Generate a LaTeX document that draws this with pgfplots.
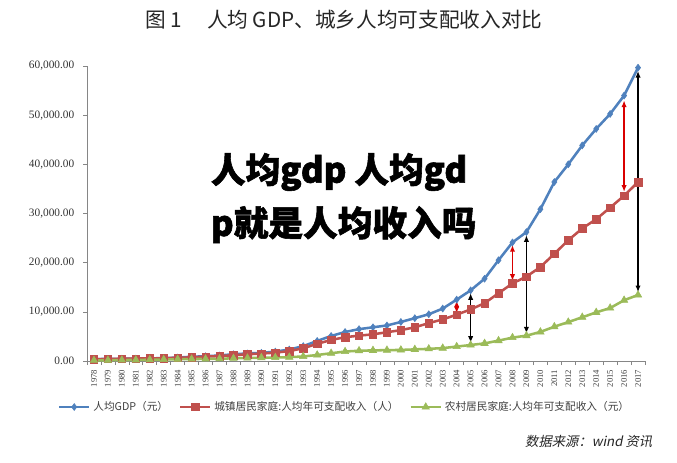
\documentclass[border=0pt]{standalone}
\usepackage{pgfplots}
\pgfplotsset{compat=1.18}
\usepackage{pgfplotstable}
\usetikzlibrary{arrows.meta}
\usepackage{fontspec}
\setmainfont{Liberation Serif}
\newfontfamily\cjk{Noto Sans CJK SC}
\newfontfamily\cjkheavy{Noto Sans CJK SC}[BoldFeatures={FakeBold=1.6}]
\newfontfamily\cjkslant{Noto Sans CJK SC}[FakeSlant=0.2]
\definecolor{gdpblue}{HTML}{4F81BD}
\definecolor{urbred}{HTML}{C0504D}
\definecolor{rurgreen}{HTML}{9BBB59}
\definecolor{axgray}{HTML}{868686}

\pgfplotstableread{
year gdp urban rural
1978 385 343 134
1979 423 405 160
1980 468 478 191
1981 497 500 223
1982 533 535 270
1983 588 565 310
1984 702 652 355
1985 866 739 398
1986 973 900 424
1987 1123 1002 463
1988 1378 1180 545
1989 1536 1374 602
1990 1663 1510 686
1991 1912 1701 709
1992 2334 2027 784
1993 3027 2577 922
1994 4081 3496 1221
1995 5091 4283 1578
1996 5898 4839 1926
1997 6481 5160 2090
1998 6860 5425 2162
1999 7229 5854 2210
2000 7942 6280 2253
2001 8717 6860 2366
2002 9506 7703 2476
2003 10666 8472 2622
2004 12487 9422 2936
2005 14368 10493 3255
2006 16738 11759 3587
2007 20505 13786 4140
2008 24121 15781 4761
2009 26222 17175 5153
2010 30876 19109 5919
2011 36403 21810 6977
2012 40007 24565 7917
2013 43852 26955 8896
2014 47203 28844 9892
2015 50251 31195 10772
2016 53980 33616 12363
2017 59660 36396 13432
}\datatable

\begin{document}
\begin{tikzpicture}[x=1pt,y=1pt]
\fill[white] (0,0) rectangle (507.75,346.5);
\useasboundingbox (0,0) rectangle (507.75,346.5);
\node[font=\cjk\fontsize{15.5}{18}\selectfont, text=black!85] at (258,331.5) {图 1\hspace{1.2em}人均 GDP、城乡人均可支配收入对比};
\begin{axis}[
  at={(65.25pt,75.75pt)}, anchor=south west,
  scale only axis, width=418.5pt, height=221.25pt,
  xmin=1977.5, xmax=2017.5, ymin=0, ymax=60000,
  axis x line=bottom, axis y line=left,
  axis line style={axgray, line width=0.6pt, -},
  tick align=outside,
  xtick={1978,...,2017},
  major x tick style={draw=none},
  minor xtick={1977.5,1978.5,...,2017.5},
  minor x tick style={axgray, line width=0.5pt},
  minor tick length=3pt,
  ytick={0,10000,...,60000},
  major y tick style={axgray, line width=0.5pt},
  major tick length=3pt,
  scaled y ticks=false,
  /pgf/number format/assume math mode=true,
  x tick label style={rotate=90, anchor=east, font=\fontsize{6.5}{7}\selectfont, text=black!75, /pgf/number format/1000 sep={}},
  y tick label style={xshift=-3pt, font=\fontsize{8.5}{10}\selectfont, text=black!80, /pgf/number format/.cd, fixed, fixed zerofill, precision=2, 1000 sep={,}},
  legend columns=3,
  legend style={at={(0.462,-0.156)}, anchor=center, draw=none, fill=none,
    font=\cjk\fontsize{8}{9}\selectfont, text=black!75,
    /tikz/every even column/.append style={column sep=6pt}},
  legend cell align=left,
  legend image code/.code={\draw[mark repeat=2,mark phase=2,#1] plot coordinates {(0cm,0cm) (0.4cm,0cm) (0.8cm,0cm)};},
  clip=false,
]
\addplot[gdpblue, line width=1.9pt, mark=diamond*, mark size=2.6pt, mark options={fill=gdpblue, draw=gdpblue, line width=0.4pt}] table[x=year,y=gdp]{\datatable};
\addlegendentry{人均GDP（元）}
\addplot[urbred, line width=1.9pt, mark=square*, mark size=2.8pt, mark options={fill=urbred, draw=urbred, line width=0.4pt}] table[x=year,y=urban]{\datatable};
\addlegendentry{城镇居民家庭:人均年可支配收入（人）}
\addplot[rurgreen, line width=1.9pt, mark=triangle*, mark size=3.2pt, mark options={fill=rurgreen, draw=rurgreen, line width=0.4pt}] table[x=year,y=rural]{\datatable};
\addlegendentry{农村居民家庭:人均年可支配收入（元）}
% annotation arrows
\draw[{Latex[length=5pt,width=4pt]}-{Latex[length=5pt,width=4pt]}, red!85!black, line width=1pt] (axis cs:2004,12300) -- (axis cs:2004,9700);
\draw[{Latex[length=5pt,width=4pt]}-{Latex[length=5pt,width=4pt]}, red!85!black, line width=1pt] (axis cs:2008,23600) -- (axis cs:2008,16300);
\draw[{Latex[length=5pt,width=4pt]}-{Latex[length=5pt,width=4pt]}, red!85!black, line width=1pt] (axis cs:2016,53000) -- (axis cs:2016,34400);
\draw[{Latex[length=5pt,width=4pt]}-{Latex[length=5pt,width=4pt]}, black, line width=1pt] (axis cs:2005,13800) -- (axis cs:2005,3700);
\draw[{Latex[length=5pt,width=4pt]}-{Latex[length=5pt,width=4pt]}, black, line width=1pt] (axis cs:2009,25600) -- (axis cs:2009,5600);
\draw[{Latex[length=5pt,width=4pt]}-{Latex[length=5pt,width=4pt]}, black, line width=1pt] (axis cs:2017,59000) -- (axis cs:2017,14000);
\end{axis}
\node[anchor=west, font=\cjkheavy\bfseries\fontsize{26}{30}\selectfont, inner sep=0pt] at (158,217.5) {人均gdp 人均gd};
\node[anchor=west, font=\cjkheavy\bfseries\fontsize{26}{30}\selectfont, inner sep=0pt] at (158,178) {p就是人均收入吗};
\node[anchor=east, font=\cjkslant\fontsize{10}{12}\selectfont, text=black!85] at (492.75,15) {数据来源：wind 资讯};
\end{tikzpicture}
\end{document}
